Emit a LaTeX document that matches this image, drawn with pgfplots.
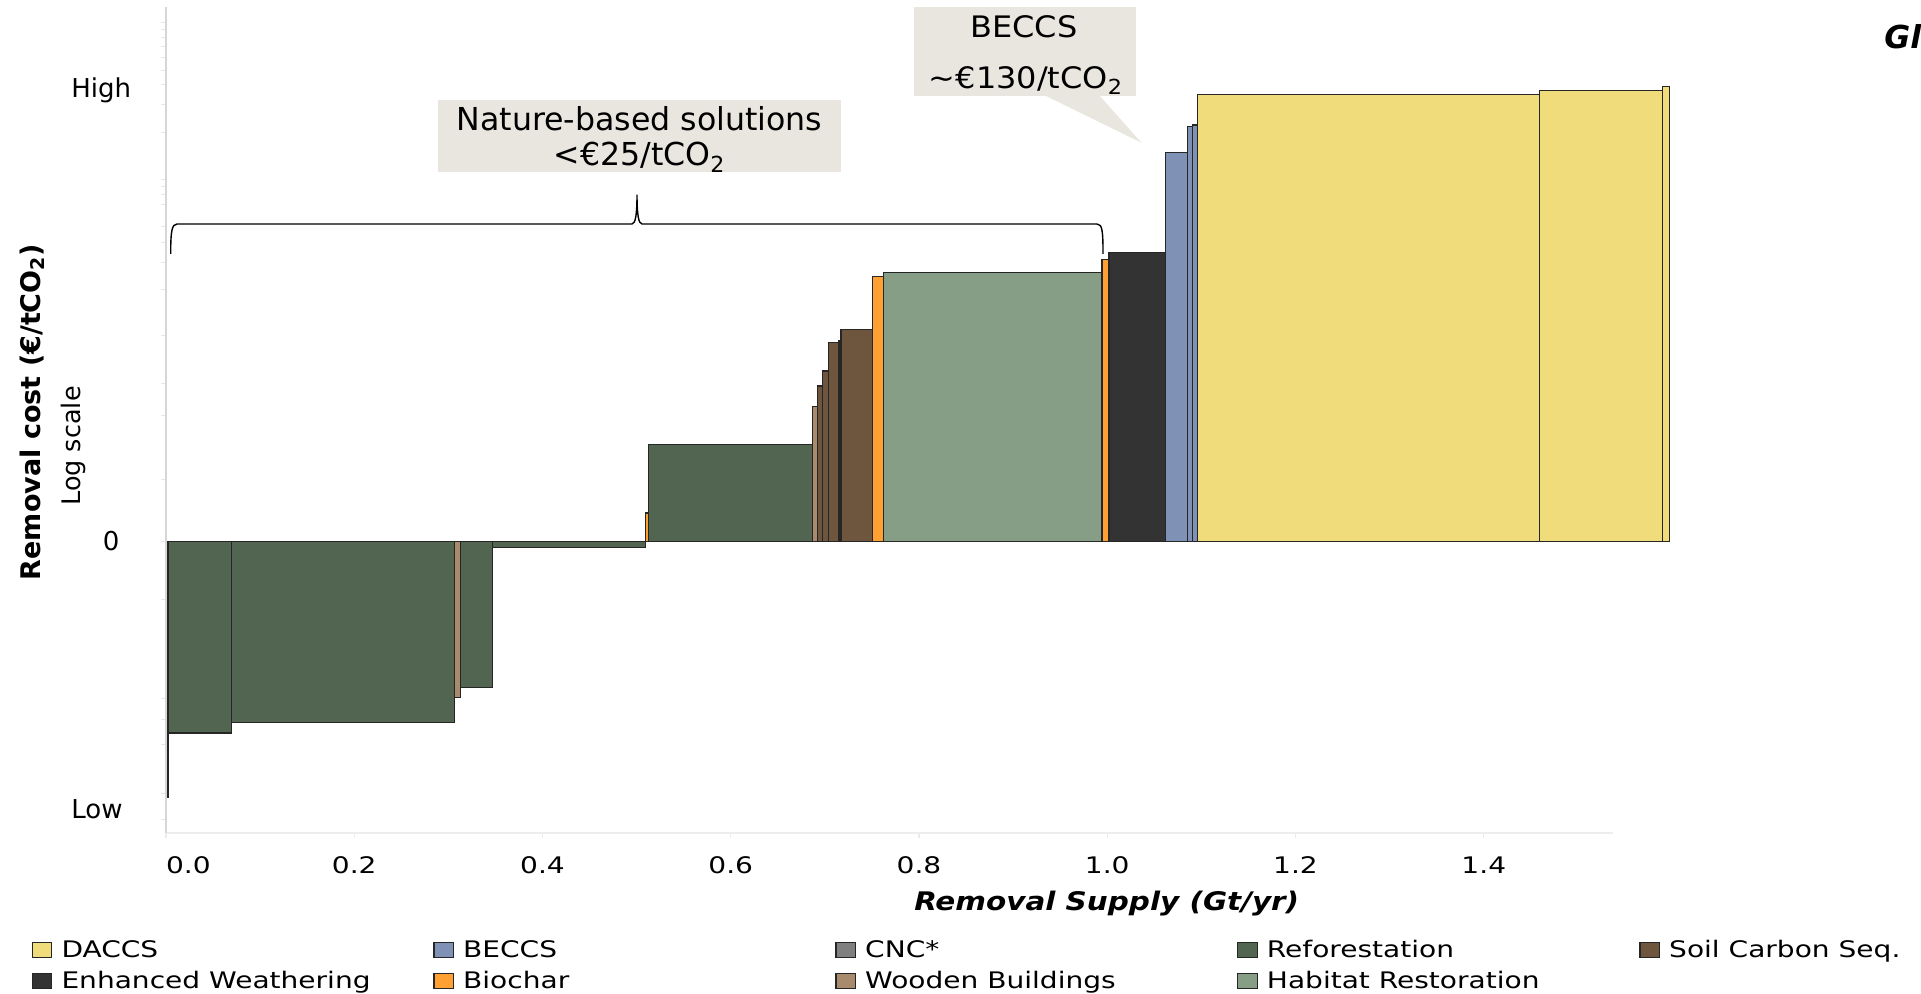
\documentclass[border=0pt]{standalone}
\usepackage{pgfplots}
\pgfplotsset{compat=1.18}
\usepackage{fontspec}
\setmainfont{DejaVu Sans}
\newfontfamily\wfont{DejaVu Sans}[FakeStretch=1.23]
\newfontfamily\xfont{DejaVu Sans}[FakeStretch=1.15]
\newfontfamily\bfont{DejaVu Sans}[FakeStretch=1.08]
\definecolor{cDAC}{HTML}{F0DC7A}
\definecolor{cBEC}{HTML}{7F91B5}
\definecolor{cCNC}{HTML}{808080}
\definecolor{cREF}{HTML}{516550}
\definecolor{cSOIL}{HTML}{6E553D}
\definecolor{cEW}{HTML}{333333}
\definecolor{cBIO}{HTML}{FFA033}
\definecolor{cWOOD}{HTML}{A88B6C}
\definecolor{cHAB}{HTML}{869E86}
\definecolor{cBOX}{HTML}{E8E6DF}
\definecolor{cEdge}{HTML}{262626}
\newcommand{\bbar}[4]{\addplot[draw=cEdge, line width=0.6pt, fill=#4] coordinates {(#1,0) (#1,#3) (#2,#3) (#2,0)} -- cycle;}
\begin{document}
\begin{tikzpicture}
\path[use as bounding box] (0,0) rectangle (960.5pt,497pt);
\begin{axis}[
  at={(83pt,80.35pt)}, anchor=south west,
  scale only axis, width=723.65pt, height=413.3pt,
  xmin=0, xmax=1.5376, ymin=-291.8, ymax=534.8,
  clip=false,
  axis x line*=bottom, axis y line*=left,
  x axis line style={draw=black!7, line width=0.8pt, -},
  y axis line style={draw=black!16, line width=1.35pt, -},
  ytick={518.5,511.5,503.5,494.5,483.5,470.5,456.5,436.5,408.5,361.5,354.5,346.5,336.5,314.5,298.5,278.5,251.5,205.5,157.5,125.5,61.5,0,-58.5,-156.8,-178.5,-203.5,-251.8,-278.5},
  yticklabels={},
  y tick style={draw=black!9, line width=0.5pt},
  xtick={0,0.2,0.4,0.6,0.8,1.0,1.2,1.4},
  xticklabels={\rlap{0.0},0.2,0.4,0.6,0.8,1.0,1.2,1.4},
  tick align=outside, major tick length=2.5pt,
  x tick style={draw=black!8, line width=0.6pt},
  xticklabel style={font=\wfont\fontsize{11.4}{13}\selectfont, anchor=base, yshift=-17.75pt},
]
\addplot[draw=cEdge, line width=0.6pt] coordinates {(0.0022,0) (0.0022,-256.2)};
\bbar{0.0029}{0.0698}{-191.5}{cREF}
\bbar{0.0698}{0.3064}{-181.2}{cREF}
\bbar{0.3064}{0.3131}{-155.8}{cWOOD}
\bbar{0.3131}{0.3467}{-145.8}{cREF}
\bbar{0.3467}{0.5094}{-6.2}{cREF}
\bbar{0.5094}{0.5127}{28.5}{cBIO}
\bbar{0.5127}{0.6871}{97}{cREF}
\bbar{0.6871}{0.6919}{135}{cWOOD}
\bbar{0.6919}{0.6976}{155.5}{cSOIL}
\bbar{0.6976}{0.7036}{170.5}{cSOIL}
\bbar{0.7036}{0.7150}{198.8}{cSOIL}
\bbar{0.7150}{0.7171}{200.8}{cSOIL}
\bbar{0.7171}{0.7508}{212.2}{cSOIL}
\bbar{0.7508}{0.7620}{264.8}{cBIO}
\bbar{0.7620}{0.9943}{268.8}{cHAB}
\bbar{0.9943}{1.0018}{282.2}{cBIO}
\bbar{1.0018}{1.0620}{289.2}{cEW}
\bbar{1.0620}{1.0850}{388.7}{cBEC}
\bbar{1.0850}{1.0903}{414.8}{cBEC}
\bbar{1.0903}{1.0960}{416.5}{cBEC}
\bbar{1.0960}{1.4591}{446.9}{cDAC}
\bbar{1.4591}{1.5896}{450.8}{cDAC}
\bbar{1.5896}{1.5975}{455.1}{cDAC}
\end{axis}
\begin{scope}[shift={(0pt,497pt)}, x=0.5pt, y=-0.5pt]
% y category labels
\node[anchor=base west, inner sep=0, font=\fontsize{13}{15}\selectfont] at (71,97.1) {High};
\node[anchor=base, inner sep=0, font=\fontsize{13}{15}\selectfont] at (111.2,550.7) {0};
\node[anchor=base west, inner sep=0, font=\fontsize{13}{15}\selectfont] at (71,818.3) {Low};
\node[rotate=90, inner sep=0, font=\fontsize{12.75}{15}\selectfont] at (73.5,446) {Log scale};
\node[rotate=90, inner sep=0, font=\bfseries\fontsize{13.5}{16}\selectfont] at (32,412) {Removal cost (€/tCO\textsubscript{2})};
% x label
\node[anchor=base, inner sep=0, font=\xfont\bfseries\itshape\fontsize{12.8}{15}\selectfont] at (1106.7,910.7) {Removal Supply (Gt/yr)};
% annotation boxes
\fill[cBOX] (438.3,100) rectangle (841,172.3);
\node[anchor=base, inner sep=0, font=\fontsize{15.8}{18}\selectfont] at (639.5,130.3) {Nature-based solutions};
\node[anchor=base, inner sep=0, font=\fontsize{15.8}{18}\selectfont] at (639.5,166) {<€25/tCO\textsubscript{2}};
\fill[cBOX] (913.8,7.1) rectangle (1135.7,95.7);
\fill[cBOX] (1044,95) -- (1141.5,142.8) -- (1099,95) -- cycle;
\node[anchor=base, inner sep=0, font=\bfont\fontsize{14.8}{17}\selectfont] at (1024,37.5) {BECCS};
\node[anchor=base, inner sep=0, font=\bfont\fontsize{14.8}{17}\selectfont] at (1026,89) {\textasciitilde€130/tCO\textsubscript{2}};
% brace
\draw[line width=0.7pt, black] (170.7,254) .. controls (170.7,232) and (171.7,224) .. (177,224)
  -- (632,224) .. controls (635.5,224) and (637,214) .. (637,194.6)
  .. controls (637,214) and (638.5,224) .. (642,224)
  -- (1097,224) .. controls (1102.5,224) and (1103,232) .. (1103,254);
% cut-off title
\node[anchor=base west, inner sep=0, font=\bfseries\itshape\fontsize{15.8}{18}\selectfont] at (1884,48.2) {Gl};
% legend
\foreach \x/\y/\c/\t in {32.3/949.8/cDAC/DACCS, 434/949.8/cBEC/BECCS, 836/949.8/cCNC/CNC*, 1237.7/949.8/cREF/Reforestation, 1640/949.8/cSOIL/Soil Carbon Seq., 32.3/980.8/cEW/Enhanced Weathering, 434/980.8/cBIO/Biochar, 836/980.8/cWOOD/Wooden Buildings, 1237.7/980.8/cHAB/Habitat Restoration}
{
  \draw[cEdge, line width=0.6pt, fill=\c] (\x,\y-7.5) rectangle ++(19.4,15);
  \node[anchor=base west, inner sep=0, font=\wfont\fontsize{11.4}{13}\selectfont] at (\x+28.8,\y+7.5) {\t};
}
\end{scope}
\end{tikzpicture}
\end{document}
